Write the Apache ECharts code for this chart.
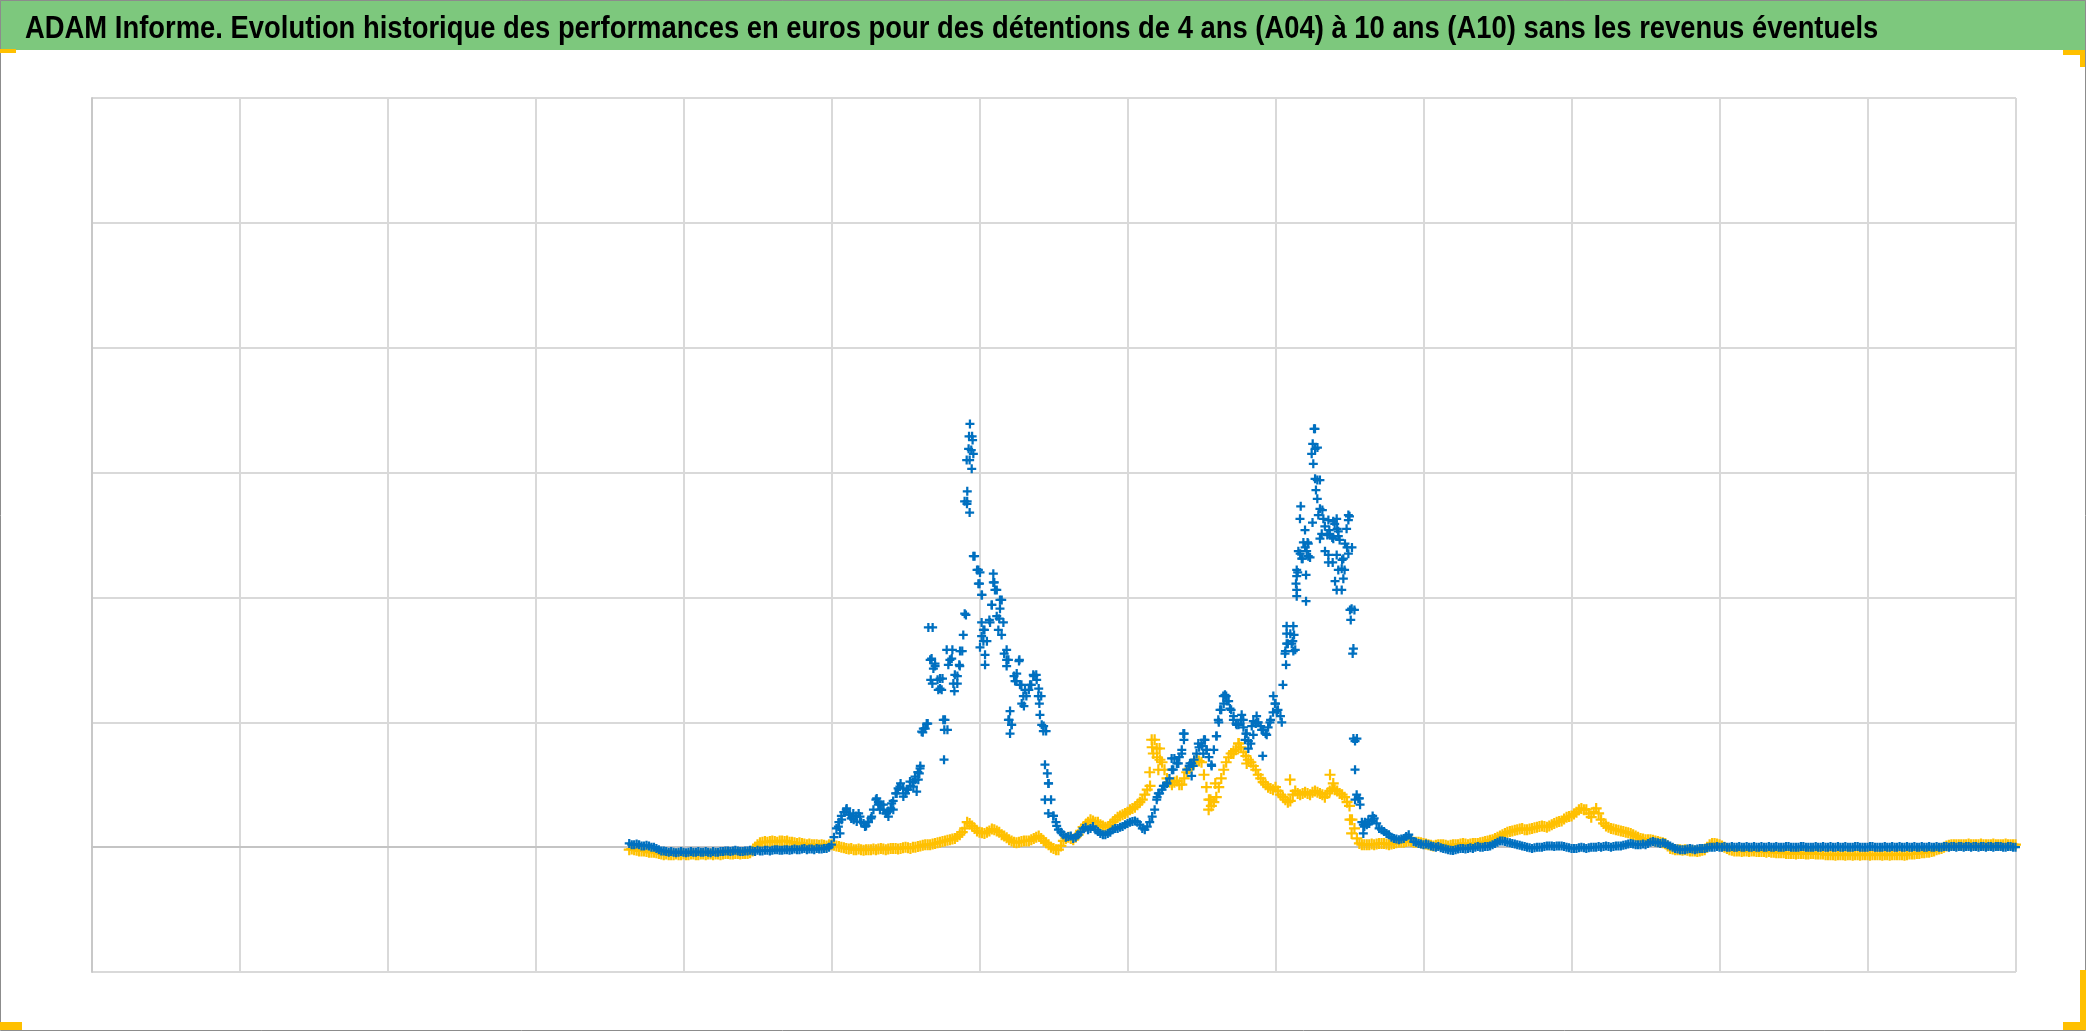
<!DOCTYPE html>
<html><head><meta charset="utf-8">
<script src="https://cdn.jsdelivr.net/npm/echarts/dist/echarts.min.js"></script>
<style>html,body{margin:0;padding:0;background:#fff;overflow:hidden}#c{width:2086px;height:1031px}</style>
</head><body><div id="c"></div><script>
// ---- DATA ----
const TITLE = "ADAM Informe. Evolution historique des performances en euros pour des détentions de 4 ans (A04) à 10 ans (A10) sans les revenus éventuels";
// x position of first observation and spacing between observations (axis units)
const X_START = 3.63;
const X_STEP = 1 / 60;

// A04 (blue) values, one per observation
const blueValues = [
0.03,0.02,0.02,0.025,0.02,0.01,0.01,0.015,0.01,0.0,0.0,-0.01,-0.02,-0.03,-0.03,-0.035,-0.04,-0.035,-0.04,-0.045,
-0.04,-0.035,-0.04,-0.045,-0.04,-0.035,-0.04,-0.04,-0.035,-0.04,-0.04,-0.035,-0.04,-0.045,-0.035,-0.04,-0.04,-0.035,-0.035,-0.03,
-0.03,-0.035,-0.03,-0.025,-0.03,-0.035,-0.035,-0.03,-0.03,-0.025,-0.03,-0.035,-0.025,-0.03,-0.03,-0.025,-0.025,-0.03,-0.025,-0.02,
-0.02,-0.025,-0.025,-0.02,-0.02,-0.025,-0.02,-0.015,-0.02,-0.02,-0.015,-0.01,-0.02,-0.015,-0.015,-0.02,-0.01,-0.015,-0.015,-0.01,
-0.01,0.0,0.02,0.08,0.15,0.2,0.25,0.28,0.3,0.26,0.23,0.22,0.25,0.27,0.2,0.19,0.17,0.2,0.23,0.3,
0.38,0.36,0.34,0.3,0.27,0.29,0.31,0.37,0.43,0.47,0.51,0.47,0.43,0.46,0.49,0.52,0.54,0.6,0.65,0.92,
0.95,0.99,1.5,1.76,1.45,1.34,1.27,1.35,1.02,0.94,1.5,1.58,1.38,1.31,1.45,1.57,1.87,2.77,3.1,3.29,
2.33,2.22,2.11,2.02,1.74,1.65,1.82,1.94,2.12,2.06,1.83,1.98,1.55,1.5,1.02,0.98,1.37,1.33,1.49,1.3,
1.13,1.21,1.26,1.3,1.37,1.38,1.27,1.21,0.97,0.93,0.51,0.38,0.25,0.2,0.14,0.12,0.1,0.08,0.085,0.09,
0.07,0.08,0.1,0.12,0.15,0.16,0.14,0.15,0.165,0.14,0.125,0.11,0.1,0.1,0.11,0.12,0.14,0.15,0.15,0.16,
0.165,0.18,0.19,0.2,0.205,0.21,0.2,0.18,0.15,0.14,0.165,0.2,0.245,0.3,0.4,0.43,0.46,0.49,0.51,0.55,
0.62,0.71,0.67,0.72,0.78,0.91,0.62,0.65,0.67,0.7,0.75,0.8,0.83,0.86,0.78,0.72,0.66,0.78,0.89,1.0,
1.1,1.15,1.21,1.17,1.1,1.05,0.99,0.98,1.02,0.96,0.91,0.85,0.83,0.9,0.99,1.0,0.97,0.94,0.91,0.96,
1.02,1.08,1.15,1.1,1.05,1.3,1.57,1.63,1.71,1.65,1.58,2.2,2.35,2.31,2.4,2.44,2.32,2.6,3.35,3.2,
2.94,2.7,2.57,2.5,2.51,2.48,2.59,2.55,2.46,2.3,2.22,2.4,2.65,2.4,1.9,0.87,0.39,0.2,0.165,0.18,
0.19,0.21,0.23,0.19,0.15,0.14,0.125,0.11,0.1,0.08,0.07,0.065,0.06,0.065,0.07,0.085,0.1,0.07,0.045,0.04,
0.03,0.025,0.02,0.025,0.02,0.01,0.005,0.0,0.005,-0.005,-0.01,-0.015,-0.02,-0.025,-0.027,-0.02,-0.015,-0.01,-0.01,-0.015,
-0.01,-0.005,-0.01,0.0,0.005,0.0,0.0,0.005,0.005,0.01,0.02,0.03,0.04,0.05,0.05,0.045,0.04,0.035,0.03,0.025,
0.02,0.015,0.01,0.005,0.0,-0.005,-0.01,-0.005,0.0,0.0,0.0,0.005,0.01,0.01,0.01,0.005,0.01,0.01,0.01,0.005,
0.0,-0.005,-0.01,-0.01,-0.01,-0.005,0.0,-0.005,-0.01,-0.005,0.0,0.0,0.0,0.005,0.0,0.005,0.01,0.005,0.0,0.005,
0.01,0.01,0.01,0.015,0.02,0.025,0.03,0.025,0.02,0.02,0.02,0.025,0.02,0.03,0.04,0.045,0.04,0.035,0.03,0.035,
0.03,0.02,0.01,0.0,-0.01,-0.015,-0.02,-0.02,-0.02,-0.015,-0.01,-0.015,-0.02,-0.015,-0.01,-0.01,-0.01,-0.005,0.0,0.0,
0.0,0.005,0.0,0.0,0.005,0.0,0.0,0.005,0.0,0.0,0.005,0.0,0.0,0.005,0.0,0.0,0.005,0.0,0.0,0.005,
0.0,0.0,0.005,0.0,0.0,0.005,0.0,0.0,0.0,0.005,0.005,0.0,0.0,0.0,0.0,0.005,0.005,0.0,0.0,0.0,
0.0,0.005,0.0,0.0,0.005,0.0,0.0,0.005,0.0,0.0,0.005,0.0,0.0,0.005,0.0,0.0,0.0,0.005,0.005,0.0,
0.0,0.0,0.0,0.005,0.005,0.0,0.0,0.0,0.0,0.005,0.0,0.0,0.005,0.0,0.0,0.005,0.0,0.0,0.005,0.0,
0.0,0.005,0.0,0.0,0.005,0.0,0.0,0.005,0.0,0.0,0.005,0.0,0.0,0.005,0.005,0.0,0.005,0.005,0.0,0.005,
0.005,0.0,0.005,0.005,0.0,0.005,0.005,0.0,0.005,0.005,0.0,0.005,0.005,0.0,0.005,0.005,0.005,0.0,0.0,0.005,
0.005,0.0,0.0
];

// A10 (yellow) values, one per observation
const yellowValues = [
-0.02,-0.015,-0.02,-0.025,-0.03,-0.03,-0.03,-0.035,-0.04,-0.04,-0.04,-0.045,-0.05,-0.055,-0.06,-0.055,-0.06,-0.06,-0.06,-0.055,
-0.06,-0.06,-0.055,-0.06,-0.06,-0.055,-0.055,-0.06,-0.06,-0.055,-0.055,-0.06,-0.055,-0.055,-0.06,-0.055,-0.055,-0.06,-0.055,-0.05,
-0.05,-0.055,-0.055,-0.05,-0.05,-0.055,-0.05,-0.05,-0.05,-0.045,-0.03,0.0,0.02,0.035,0.04,0.045,0.04,0.045,0.05,0.045,
0.04,0.05,0.05,0.045,0.05,0.04,0.04,0.035,0.03,0.035,0.03,0.025,0.02,0.025,0.02,0.02,0.02,0.015,0.02,0.015,
0.01,0.02,0.02,0.015,0.01,0.005,0.0,-0.005,-0.01,-0.015,-0.01,-0.02,-0.02,-0.015,-0.02,-0.025,-0.02,-0.02,-0.02,-0.015,
-0.02,-0.015,-0.01,-0.015,-0.02,-0.015,-0.01,-0.01,-0.01,-0.015,-0.01,-0.005,0.0,-0.005,-0.01,0.0,0.0,0.005,0.01,0.015,
0.02,0.02,0.02,0.025,0.03,0.035,0.04,0.045,0.05,0.055,0.06,0.065,0.07,0.085,0.1,0.12,0.15,0.2,0.19,0.17,
0.15,0.13,0.12,0.115,0.11,0.12,0.13,0.145,0.14,0.13,0.12,0.1,0.09,0.075,0.06,0.05,0.04,0.035,0.04,0.045,
0.05,0.05,0.05,0.06,0.07,0.08,0.09,0.07,0.05,0.035,0.02,0.0,-0.01,-0.02,-0.02,0.01,0.05,0.07,0.08,0.07,
0.06,0.08,0.1,0.13,0.16,0.18,0.2,0.22,0.21,0.2,0.2,0.18,0.17,0.16,0.16,0.18,0.2,0.22,0.24,0.25,
0.26,0.27,0.28,0.3,0.31,0.32,0.34,0.36,0.38,0.42,0.46,0.6,0.8,0.86,0.72,0.79,0.68,0.62,0.55,0.52,
0.5,0.52,0.53,0.5,0.5,0.55,0.6,0.63,0.65,0.68,0.7,0.69,0.68,0.58,0.48,0.38,0.33,0.36,0.4,0.48,
0.55,0.62,0.68,0.72,0.75,0.77,0.78,0.83,0.8,0.76,0.73,0.7,0.68,0.65,0.62,0.58,0.55,0.52,0.5,0.48,
0.47,0.46,0.48,0.45,0.42,0.4,0.38,0.36,0.37,0.42,0.45,0.43,0.42,0.43,0.44,0.43,0.42,0.44,0.45,0.44,
0.43,0.42,0.4,0.43,0.45,0.47,0.46,0.45,0.43,0.42,0.4,0.36,0.33,0.22,0.15,0.07,0.03,0.02,0.02,0.02,
0.02,0.025,0.02,0.025,0.03,0.03,0.03,0.025,0.02,0.025,0.03,0.035,0.04,0.04,0.04,0.045,0.05,0.045,0.04,0.04,
0.04,0.035,0.03,0.025,0.02,0.015,0.01,0.015,0.02,0.02,0.02,0.015,0.01,0.015,0.02,0.02,0.02,0.025,0.03,0.025,
0.02,0.025,0.03,0.03,0.03,0.035,0.04,0.045,0.05,0.055,0.06,0.07,0.08,0.09,0.1,0.11,0.12,0.125,0.13,0.135,
0.14,0.145,0.15,0.14,0.14,0.145,0.15,0.155,0.16,0.165,0.17,0.165,0.16,0.17,0.18,0.19,0.2,0.205,0.21,0.225,
0.24,0.245,0.25,0.265,0.28,0.3,0.31,0.3,0.3,0.27,0.24,0.28,0.31,0.27,0.22,0.19,0.17,0.16,0.15,0.145,
0.14,0.135,0.13,0.125,0.12,0.115,0.11,0.1,0.09,0.08,0.07,0.065,0.06,0.06,0.06,0.055,0.05,0.045,0.04,0.035,
0.03,0.01,-0.01,-0.015,-0.02,-0.02,-0.02,-0.025,-0.02,-0.025,-0.03,-0.03,-0.03,-0.035,-0.03,-0.025,-0.02,0.0,0.02,0.03,
0.03,0.025,0.02,0.01,0.0,-0.01,-0.02,-0.025,-0.03,-0.03,-0.03,-0.035,-0.03,-0.03,-0.035,-0.03,-0.03,-0.035,-0.035,-0.035,
-0.035,-0.04,-0.035,-0.04,-0.04,-0.045,-0.045,-0.045,-0.045,-0.05,-0.05,-0.05,-0.05,-0.055,-0.05,-0.05,-0.05,-0.055,-0.055,-0.05,
-0.05,-0.055,-0.055,-0.055,-0.055,-0.06,-0.06,-0.06,-0.06,-0.065,-0.06,-0.06,-0.06,-0.065,-0.06,-0.06,-0.065,-0.06,-0.06,-0.065,
-0.06,-0.06,-0.06,-0.065,-0.06,-0.06,-0.06,-0.06,-0.065,-0.06,-0.06,-0.065,-0.06,-0.06,-0.06,-0.06,-0.06,-0.065,-0.06,-0.055,
-0.055,-0.055,-0.05,-0.05,-0.045,-0.045,-0.04,-0.04,-0.035,-0.03,-0.02,-0.015,-0.01,0.0,0.01,0.015,0.02,0.02,0.02,0.02,
0.02,0.02,0.02,0.025,0.02,0.02,0.02,0.02,0.025,0.02,0.02,0.02,0.02,0.025,0.02,0.02,0.02,0.02,0.025,0.02,
0.02,0.02,0.02
];

// additional scattered A04 observations in the volatile periods [x, value]
const bluePeak1 = [
[5.043,0.165],[5.054,0.11],[5.065,0.22],[5.099,0.31],[5.122,0.26],[5.144,0.27],[5.167,0.205],[5.189,0.245],[5.223,0.165],[5.245,0.205],[5.268,0.245],
[5.302,0.39],[5.313,0.34],[5.324,0.3],[5.347,0.34],[5.369,0.27],[5.381,0.245],[5.403,0.35],[5.414,0.3],[5.437,0.43],
[5.459,0.485],[5.482,0.405],[5.505,0.46],[5.527,0.525],[5.55,0.485],[5.561,0.565],[5.572,0.445],[5.583,0.54],[5.595,0.63],[5.59,0.59],
[5.606,0.925],[5.617,0.95],[5.64,0.99],[5.651,1.76],[5.673,1.51],[5.685,1.43],[5.696,1.47],[5.667,1.34],[5.678,1.31],[5.718,1.26],
[5.73,1.35],[5.741,1.26],[5.752,1.02],[5.759,0.94],[5.757,0.7],[5.775,1.58],[5.786,1.46],[5.809,1.51],[5.82,1.31],[5.827,1.25],
[5.847,1.37],[5.865,1.57],[5.86,1.46],[5.887,1.7],[5.905,1.86],[5.896,2.77],[5.912,2.75],[5.93,2.68],[5.914,2.85],
[5.932,3.39],[5.926,3.29],[5.95,3.26],[5.923,3.19],[5.941,3.18],[5.955,3.15],[5.91,3.1],[5.944,3.03],[5.955,2.33],[5.989,2.22],
[6.0,2.2],[5.989,2.11],[6.011,2.02],[6.011,1.8],[6.023,1.74],[6.011,1.69],[6.023,1.65],[6.0,1.6],[6.034,1.54],[6.034,1.46],
[6.09,2.19],[6.09,2.12],[6.101,2.06],[6.135,1.98],[6.079,1.94],[6.135,1.91],[6.113,1.85],[6.158,1.8],[6.068,1.8],[6.124,1.74],[6.146,1.7],
[6.18,1.58],[6.192,1.5],[6.18,1.45],[6.266,1.5],[6.248,1.39],[6.237,1.33],[6.27,1.3],[6.203,1.09],[6.192,1.02],[6.214,0.98],[6.203,0.91],
[6.282,1.15],[6.293,1.21],[6.304,1.26],[6.338,1.3],[6.36,1.38],[6.383,1.34],[6.394,1.21],[6.401,1.15],[6.405,1.06],[6.417,0.98],
[6.428,0.93],[6.439,0.66],[6.455,0.59],[6.462,0.51],[6.439,0.38],[6.462,0.27],[6.495,0.25],[6.518,0.17]
];
const blueHump = [
[7.194,0.38],[7.205,0.43],[7.239,0.49],[7.261,0.51],[7.295,0.71],[7.306,0.62],[7.34,0.67],[7.374,0.91],[7.378,0.86],[7.363,0.75],
[7.419,0.67],[7.43,0.57],[7.441,0.65],[7.475,0.83],[7.498,0.81],[7.52,0.86],[7.532,0.78],[7.509,0.75],[7.565,0.65],[7.599,0.89],
[7.61,1.02],[7.622,1.1],[7.644,1.21],[7.655,1.22],[7.667,1.17],[7.689,1.11],[7.712,1.02],[7.734,0.98],[7.768,1.06],[7.779,1.02],
[7.791,0.86],[7.813,0.79],[7.847,1.01],[7.869,1.05],[7.802,0.91],[7.836,0.97],[7.903,0.94],[7.937,0.9],[7.91,0.73],[7.959,1.0],
[7.982,1.21],[7.993,1.15],[8.005,1.09],[8.039,1.0]
];
const bluePeak2 = [
[8.257,3.35],[8.248,3.23],[8.264,3.19],[8.241,3.15],[8.252,3.07],[8.264,2.95],[8.279,2.94],[8.27,2.86],[8.279,2.79],[8.167,2.73],
[8.297,2.71],[8.162,2.63],[8.286,2.66],[8.32,2.63],[8.354,2.62],[8.387,2.61],[8.41,2.63],[8.489,2.66],[8.489,2.62],[8.477,2.55],
[8.196,2.54],[8.309,2.51],[8.36,2.54],[8.421,2.53],[8.297,2.47],[8.387,2.47],[8.421,2.49],[8.185,2.44],[8.218,2.43],[8.466,2.43],
[8.151,2.37],[8.207,2.37],[8.331,2.37],[8.489,2.35],[8.174,2.31],[8.218,2.33],[8.354,2.34],[8.41,2.34],[8.455,2.31],[8.354,2.28],
[8.383,2.28],[8.14,2.22],[8.421,2.22],[8.444,2.23],[8.203,2.18],[8.14,2.17],[8.455,2.15],[8.135,2.11],[8.399,2.13],[8.14,2.06],
[8.41,2.06],[8.444,2.06],[8.14,2.01],[8.203,1.97],[8.511,1.91],[8.5,1.9],[8.505,1.82],[8.072,1.77],[8.117,1.77],[8.072,1.71],
[8.122,1.7],[8.072,1.63],[8.106,1.63],[8.061,1.55],[8.117,1.57],[8.068,1.46],[8.523,1.59],[8.518,1.55],[8.523,0.87],[8.534,0.85],
[8.534,0.62],[8.545,0.42],[8.556,0.39],[8.534,0.38],[8.568,0.34],[8.59,0.18],[8.601,0.2],[8.624,0.22],[8.653,0.25],[8.59,0.11]
];
// additional scattered A10 observations [x, value]
const yellowExtra = [
[7.16,0.86],[7.171,0.75],[7.194,0.79],[7.216,0.7],[7.205,0.62],[7.149,0.49],[7.545,0.3],[7.557,0.38],[7.59,0.51],[7.748,0.83],
[7.712,0.75],[7.802,0.67],[8.365,0.58],[8.387,0.51],[8.095,0.54],[8.5,0.22],[8.511,0.11]
];

// ---- CHART ----
if (blueValues.length !== yellowValues.length) console.error('length mismatch', blueValues.length, yellowValues.length);
const toPoints = vals => vals.map((v, i) => [X_START + i * X_STEP, v]);
const yellowData = toPoints(yellowValues).concat(yellowExtra);
const blueData = toPoints(blueValues).concat(bluePeak1, blueHump, bluePeak2);

const plusBlue = 'path://M3,0H5V3H8V5H5V8H3V5H0V3H3Z';
const plusYellow = 'path://M4,0H6V4H10V6H6V10H4V6H0V4H4Z';
const ORANGE = '#FFC000';

const chart = echarts.init(document.getElementById('c'), null, {renderer: 'canvas'});
chart.setOption({
  animation: false,
  backgroundColor: '#ffffff',
  grid: {left: 92, top: 98, width: 1924, height: 874, show: false},
  xAxis: {
    type: 'value', min: 0, max: 13, interval: 1,
    axisLabel: {show: false}, axisTick: {show: false},
    axisLine: {show: true, onZero: true, lineStyle: {color: '#c4c4c4', width: 2}},
    splitLine: {show: true, lineStyle: {color: '#d9d9d9', width: 2}}
  },
  yAxis: {
    type: 'value', min: -1, max: 6, interval: 1,
    axisLabel: {show: false}, axisTick: {show: false},
    axisLine: {show: true, lineStyle: {color: '#c8c8c8', width: 2}},
    splitLine: {show: true, lineStyle: {color: '#d9d9d9', width: 2}}
  },
  series: [
    {type: 'scatter', name: 'A10', data: yellowData, symbol: plusYellow, symbolSize: 11,
     itemStyle: {color: ORANGE, opacity: 1}, z: 2, large: false, silent: true},
    {type: 'scatter', name: 'A04', data: blueData, symbol: plusBlue, symbolSize: 9,
     itemStyle: {color: '#0070C0', opacity: 1}, z: 3, large: false, silent: true}
  ],
  graphic: [
    {type: 'rect', z: 1, shape: {x: 0, y: 0, width: 2086, height: 50}, style: {fill: '#7DC87D'}},
    {type: 'text', z: 5, x: 25, y: 29, scaleX: 0.884, scaleY: 1,
     style: {text: TITLE, font: 'bold 31px "Liberation Sans", Arial, sans-serif', fill: '#000000', verticalAlign: 'middle', textAlign: 'left'}},
    {type: 'rect', z: 6, shape: {x: 0.5, y: 0.5, width: 2085, height: 1030}, style: {fill: null, stroke: '#8c8c8c', lineWidth: 1}},
    {type: 'rect', z: 7, shape: {x: 0, y: 49, width: 16, height: 4}, style: {fill: ORANGE}},
    {type: 'rect', z: 7, shape: {x: 2063, y: 50, width: 22, height: 5}, style: {fill: ORANGE}},
    {type: 'rect', z: 7, shape: {x: 2080, y: 50, width: 5, height: 17}, style: {fill: ORANGE}},
    {type: 'rect', z: 7, shape: {x: 0, y: 1022, width: 22, height: 8}, style: {fill: ORANGE}},
    {type: 'rect', z: 7, shape: {x: 2080, y: 970, width: 6, height: 60}, style: {fill: ORANGE}},
    {type: 'rect', z: 7, shape: {x: 2063, y: 1022, width: 23, height: 8}, style: {fill: ORANGE}}
  ]
});
</script></body></html>
